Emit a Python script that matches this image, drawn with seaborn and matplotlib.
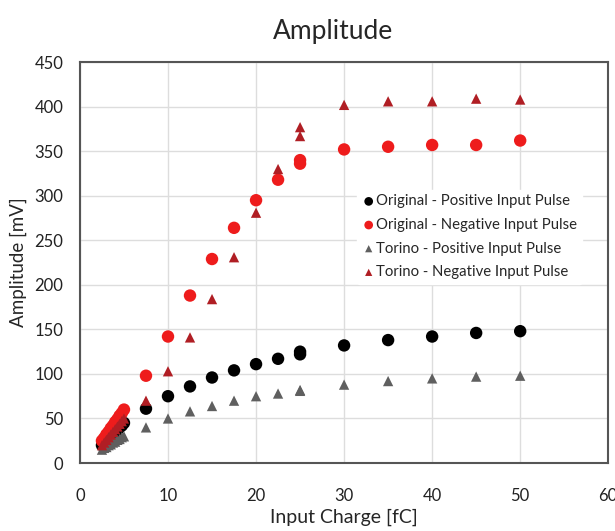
import numpy as np
import pandas as pd
import matplotlib
matplotlib.use("Agg")
import matplotlib.pyplot as plt
import seaborn as sns

# input charge [fC]
charge_low = [2.5, 2.75, 3.0, 3.25, 3.5, 3.75, 4.0, 4.25, 4.5, 4.75, 5.0]
charge_high = [7.5, 10, 12.5, 15, 17.5, 20, 22.5, 25, 25, 30, 35, 40, 45, 50]

# amplitudes [mV]
orig_pos_low = [20, 22, 25, 27, 30, 32, 35, 37, 40, 42, 45]
orig_pos_high = [61, 75, 86, 96, 104, 111, 117, 122, 125, 132, 138, 142, 146, 148]

orig_neg_low = [25, 28, 32, 35, 39, 42, 46, 49, 53, 56, 60]
orig_neg_high = [98, 142, 188, 229, 264, 295, 318, 336, 340, 352, 355, 357, 357, 362]

torino_pos_low = [15, 17, 18, 20, 21, 23, 24, 26, 27, 29, 30]
torino_pos_high = [40, 50, 58, 64, 70, 75, 78, 81, 82, 88, 92, 95, 97, 98]

torino_neg_low = [20, 23, 26, 29, 32, 35, 38, 41, 44, 47, 50]
torino_neg_high = [70, 103, 141, 184, 231, 281, 330, 367, 377, 402, 406, 406, 409, 408]

labels = ["Original - Positive Input Pulse", "Original - Negative Input Pulse",
          "Torino - Positive Input Pulse", "Torino - Negative Input Pulse"]

series = {
    labels[0]: orig_pos_low + orig_pos_high,
    labels[1]: orig_neg_low + orig_neg_high,
    labels[2]: torino_pos_low + torino_pos_high,
    labels[3]: torino_neg_low + torino_neg_high,
}
x_all = charge_low + charge_high

rows = []
for name, vals in series.items():
    for xv, yv in zip(x_all, vals):
        rows.append({"charge": xv, "amp": yv, "series": name})
df = pd.DataFrame(rows)

sns.set_style("white")
plt.rcParams["font.family"] = ["Lato", "DejaVu Sans"]

fig = plt.figure(figsize=(6.15, 5.31), dpi=100)
ax = fig.add_axes([0.130, 0.128, 0.859, 0.755])

colors = {labels[0]: "#000000", labels[1]: "#EE1C1C",
          labels[2]: "#5F5F5F", labels[3]: "#B01E24"}
markers = {labels[0]: "o", labels[1]: "o", labels[2]: "^", labels[3]: "^"}
sizes = {labels[0]: 80, labels[1]: 80, labels[2]: 55, labels[3]: 55}

for name in labels:
    sub = df[df["series"] == name]
    sns.scatterplot(data=sub, x="charge", y="amp", ax=ax, color=colors[name],
                    marker=markers[name], s=sizes[name], edgecolor="none",
                    label=name, zorder=3)

ax.set_xlim(0, 60)
ax.set_ylim(0, 450)
ax.set_xticks(np.arange(0, 61, 10))
ax.set_yticks(np.arange(0, 451, 50))
ax.grid(True, color="#DDDDDD", linewidth=1)
ax.set_axisbelow(True)
for sp in ax.spines.values():
    sp.set_color("#555555")
    sp.set_linewidth(1.5)
ax.tick_params(axis="x", length=0, labelsize=12, pad=18, colors="#222222")
ax.tick_params(axis="y", length=0, labelsize=12, pad=12, colors="#222222")

ax.set_xlabel("Input Charge [fC]", fontsize=14, labelpad=3)
ax.set_ylabel("Amplitude [mV]", fontsize=13.5)
ax.yaxis.set_label_coords(-0.10, 0.5)
ax.set_title("Amplitude", fontsize=19, pad=17, x=0.48)

leg = ax.legend(loc="upper left", bbox_to_anchor=(0.51, 0.70), frameon=True,
                fontsize=10.7, handletextpad=0.0, borderpad=0.3,
                labelspacing=0.65, handlelength=1.0, markerscale=0.7)
leg.get_frame().set_edgecolor("white")
leg.get_frame().set_facecolor("white")
leg.get_frame().set_alpha(1)

fig.savefig("out.png", dpi=100)
